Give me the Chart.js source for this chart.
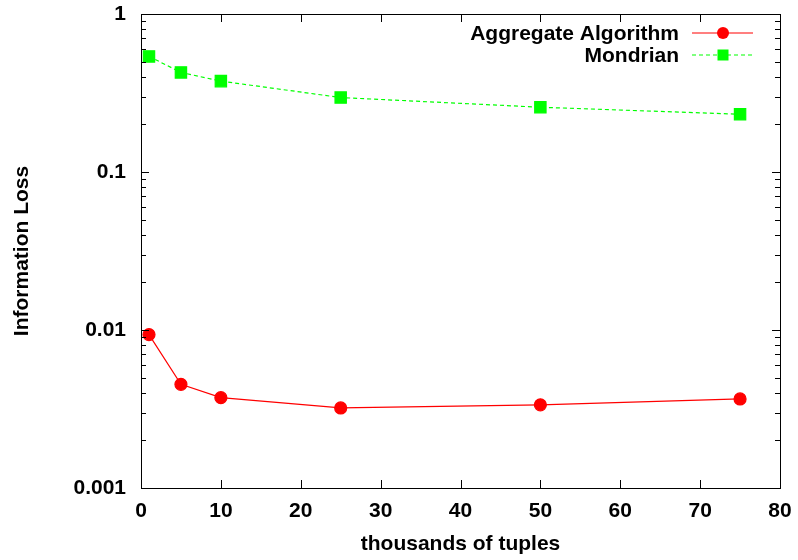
<!DOCTYPE html>
<html>
<head>
<meta charset="utf-8">
<script src="https://cdn.jsdelivr.net/npm/chart.js@4/dist/chart.umd.min.js"></script>
<style>
  html, body { margin: 0; padding: 0; background: #fff; }
  #wrap { width: 798px; height: 560px; }
</style>
</head>
<body>
<div id="wrap"><canvas id="myChart"></canvas></div>
<script>
const TUPLES = [1, 5, 10, 25, 50, 75];
const AGGREGATE = [0.00935, 0.00453, 0.00373, 0.00321, 0.00336, 0.00366];
const MONDRIAN = [0.539, 0.427, 0.376, 0.296, 0.257, 0.232];
const X_TICKS = [0, 10, 20, 30, 40, 50, 60, 70, 80];
const Y_TICKS = [0.001, 0.01, 0.1, 1];

const FONT = "'Liberation Sans', Arial, sans-serif";
const TEXT_SIZE = 21;

function points(ys) {
  return TUPLES.map((x, i) => ({ x: x, y: ys[i] }));
}

// gnuplot-style frame: border box plus inward ticks on all four sides
const framePlugin = {
  id: "frame",
  afterDatasetsDraw(chart) {
    const ctx = chart.ctx;
    const a = chart.chartArea;
    const xs = chart.scales.x;
    const ys = chart.scales.y;
    ctx.save();
    ctx.strokeStyle = "#000";
    ctx.lineWidth = 1;
    ctx.beginPath();
    X_TICKS.forEach(v => {
      const px = Math.round(xs.getPixelForValue(v)) + 0.5;
      ctx.moveTo(px, a.bottom); ctx.lineTo(px, a.bottom - 8);
      ctx.moveTo(px, a.top); ctx.lineTo(px, a.top + 8);
    });
    for (let d = 0; d < Y_TICKS.length; d++) {
      const base = Y_TICKS[d];
      for (let m = 1; m <= 9; m++) {
        const v = base * m;
        if (v > 1.0001) break;
        const len = m === 1 ? 8 : 5;
        const py = Math.round(ys.getPixelForValue(v)) + 0.5;
        ctx.moveTo(a.left, py); ctx.lineTo(a.left + len, py);
        ctx.moveTo(a.right, py); ctx.lineTo(a.right - len, py);
      }
    }
    ctx.stroke();
    ctx.strokeRect(Math.round(a.left) + 0.5, Math.round(a.top) + 0.5,
      Math.round(a.right - a.left), Math.round(a.bottom - a.top));
    ctx.restore();
  }
};

// key in the top right corner, text right-aligned before the sample
const keyPlugin = {
  id: "key",
  afterDraw(chart) {
    const ctx = chart.ctx;
    ctx.save();
    ctx.font = "bold " + TEXT_SIZE + "px " + FONT;
    ctx.textAlign = "right";
    ctx.textBaseline = "middle";
    chart.data.datasets.forEach((ds, i) => {
      const y = 33 + i * 22;
      ctx.fillStyle = "#000";
      ctx.fillText(ds.label, 679, y + 1);
      ctx.strokeStyle = ds.borderColor;
      ctx.lineWidth = 1.2;
      ctx.setLineDash(ds.borderDash || []);
      ctx.beginPath();
      ctx.moveTo(692, y); ctx.lineTo(753, y);
      ctx.stroke();
      ctx.setLineDash([]);
      ctx.fillStyle = ds.pointBackgroundColor;
      if (ds.pointStyle === "rect") {
        ctx.fillRect(723 - 5.5, y - 5.5, 11, 11);
      } else {
        ctx.beginPath();
        ctx.arc(723, y, 6, 0, Math.PI * 2);
        ctx.fill();
      }
    });
    ctx.restore();
  }
};

const data = {
  datasets: [
    {
      label: "Aggregate Algorithm",
      data: points(AGGREGATE),
      borderColor: "#ff0000",
      backgroundColor: "#ff0000",
      pointBackgroundColor: "#ff0000",
      pointBorderColor: "#ff0000",
      pointStyle: "circle",
      pointRadius: 6,
      borderWidth: 1.2,
      tension: 0,
    },
    {
      label: "Mondrian",
      data: points(MONDRIAN),
      borderColor: "#00ff00",
      backgroundColor: "#00ff00",
      pointBackgroundColor: "#00ff00",
      pointBorderColor: "#00ff00",
      pointStyle: "rect",
      pointRadius: 8,
      borderWidth: 1.2,
      borderDash: [4, 3],
      tension: 0,
    },
  ],
};

const config = {
  type: "line",
  data: data,
  options: {
    responsive: true,
    maintainAspectRatio: false,
    animation: false,
    layout: { autoPadding: false, padding: { top: 14, right: 18, bottom: 0, left: 0 } },
    plugins: {
      legend: { display: false },
      tooltip: { enabled: false },
    },
    scales: {
      x: {
        type: "linear",
        min: 0,
        max: 80,
        afterBuildTicks: s => { s.ticks = X_TICKS.map(v => ({ value: v })); },
        afterFit: s => { s.height = 72; s.paddingLeft = 0; s.paddingRight = 0; },
        grid: { display: false, drawTicks: false },
        border: { display: false },
        ticks: { color: "#000", padding: 11, font: { family: FONT, size: TEXT_SIZE, weight: "bold" } },
        title: {
          display: true,
          text: "thousands of tuples",
          color: "#000",
          padding: { top: 3, bottom: 3 },
          font: { family: FONT, size: TEXT_SIZE, weight: "bold" },
        },
      },
      y: {
        type: "logarithmic",
        min: 0.001,
        max: 1,
        afterBuildTicks: s => { s.ticks = Y_TICKS.map(v => ({ value: v })); },
        afterFit: s => { s.width = 141; s.paddingTop = 0; s.paddingBottom = 0; },
        grid: { display: false, drawTicks: false },
        border: { display: false },
        ticks: {
          color: "#000",
          padding: 15,
          font: { family: FONT, size: TEXT_SIZE, weight: "bold" },
          callback: v => String(v),
        },
        title: {
          display: true,
          text: "Information Loss",
          color: "#000",
          padding: { top: 10, bottom: 0 },
          font: { family: FONT, size: TEXT_SIZE, weight: "bold" },
        },
      },
    },
  },
  plugins: [framePlugin, keyPlugin],
};

const myChart = new Chart(document.getElementById("myChart"), config);
</script>
</body>
</html>
